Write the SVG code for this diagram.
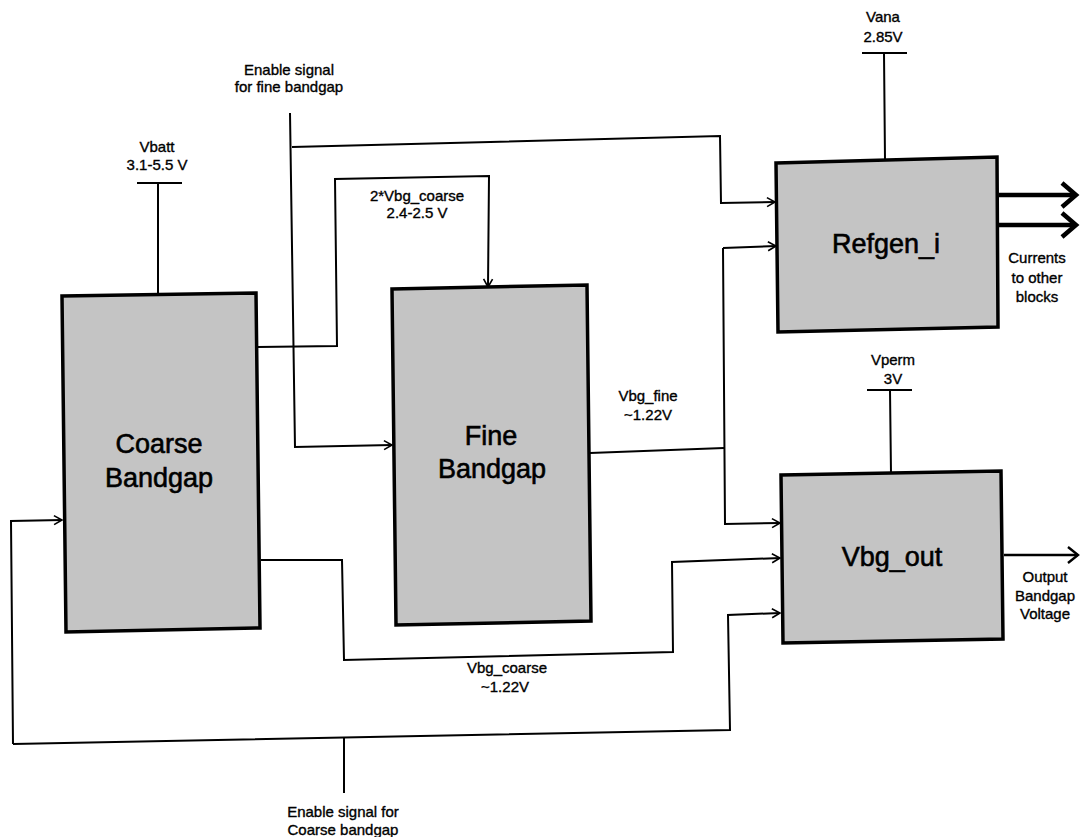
<svg xmlns="http://www.w3.org/2000/svg" width="1080" height="837" viewBox="0 0 1080 837">
<style>
.box{fill:#c4c4c4;stroke:#000;stroke-width:3.5;stroke-linejoin:miter}
.w{fill:none;stroke:#000;stroke-width:2;stroke-linejoin:miter}
.thick{fill:none;stroke:#000;stroke-width:4.5}
.big{font-family:"Liberation Sans",Arial,sans-serif;font-size:27px;text-anchor:middle;fill:#000;stroke:#000;stroke-width:0.6}
.sm{font-family:"Liberation Sans",Arial,sans-serif;font-size:15px;text-anchor:middle;fill:#000;stroke:#000;stroke-width:0.35}
</style>
<defs>
<marker id="a" markerUnits="userSpaceOnUse" markerWidth="14" markerHeight="14" refX="10" refY="6" orient="auto">
<path d="M2,1.5 L10,6 L2,10.5" fill="none" stroke="#000" stroke-width="1.6"/>
</marker>
<marker id="a2" markerUnits="userSpaceOnUse" markerWidth="16" markerHeight="20" refX="12" refY="10" orient="auto">
<path d="M2,2 L12,10 L2,18" fill="none" stroke="#000" stroke-width="2.4"/>
</marker>
<marker id="at" markerUnits="userSpaceOnUse" markerWidth="22" markerHeight="30" refX="17" refY="15" orient="auto">
<path d="M3,3 L17,15 L3,27" fill="none" stroke="#000" stroke-width="4.5"/>
</marker>
</defs>

<g id="connectors">
<path class="w" d="M137,183 L182,183 M158,183 L158,294"/>
<path class="w" d="M862,53 L907,53 M884,53 L885,160"/>
<path class="w" d="M867,390 L912,390 M890,390 L891,474"/>
<path class="w" d="M290,113 L295,447 L392,445" marker-end="url(#a)"/>
<path class="w" d="M292,147 L720,136 L721,203 L775,202" marker-end="url(#a)"/>
<path class="w" d="M258,347 L337,346 L335,179 L489,176 L488,287" marker-end="url(#a)"/>
<path class="w" d="M590,453 L724,448"/>
<path class="w" d="M723,248 L776,246" marker-end="url(#a)"/>
<path class="w" d="M723,248 L725,524 L780,523" marker-end="url(#a)"/>
<path class="w" d="M261,560 L342,560 L344,660 L673,652 L672,562 L780,558" marker-end="url(#a)"/>
<path class="w" d="M13,744 L11,521 L62,520" marker-end="url(#a)"/>
<path class="w" d="M13,744 L730,730 L728,615 L780,613" marker-end="url(#a)"/>
<path class="w" d="M344,738 L344,793"/>
<path class="thick" d="M999,195 L1076,195" marker-end="url(#at)"/>
<path class="thick" d="M999,225 L1076,225" marker-end="url(#at)"/>
<path class="w" style="stroke-width:2.5" d="M1004,555 L1078,555" marker-end="url(#a2)"/>
</g>

<g id="coarse">
<polygon class="box" points="62,296 256,293 260,628 66,632"/>
<text class="big" x="159" y="453">Coarse</text>
<text class="big" x="159" y="487">Bandgap</text>
</g>
<g id="fine">
<polygon class="box" points="392,289 587,285 591,621 396,625"/>
<text class="big" x="491" y="445">Fine</text>
<text class="big" x="492" y="478">Bandgap</text>
</g>
<g id="refgen">
<polygon class="box" points="776,163 997,157 998,327 778,332"/>
<text class="big" x="886" y="253">Refgen_i</text>
</g>
<g id="vbgout">
<polygon class="box" points="781,475 1001,471 1003,639 783,643"/>
<text class="big" x="892" y="566">Vbg_out</text>
</g>

<g id="labels">
<text class="sm" x="289" y="75">Enable signal</text>
<text class="sm" x="289" y="92">for fine bandgap</text>
<text class="sm" x="157" y="152">Vbatt</text>
<text class="sm" x="157" y="170">3.1-5.5 V</text>
<text class="sm" x="417" y="201">2*Vbg_coarse</text>
<text class="sm" x="417" y="218">2.4-2.5 V</text>
<text class="sm" x="883" y="22">Vana</text>
<text class="sm" x="883" y="42">2.85V</text>
<text class="sm" x="1037" y="263">Currents</text>
<text class="sm" x="1037" y="283">to other</text>
<text class="sm" x="1037" y="302">blocks</text>
<text class="sm" x="893" y="365">Vperm</text>
<text class="sm" x="893" y="384">3V</text>
<text class="sm" x="648" y="401">Vbg_fine</text>
<text class="sm" x="648" y="420">~1.22V</text>
<text class="sm" x="1045" y="582">Output</text>
<text class="sm" x="1045" y="601">Bandgap</text>
<text class="sm" x="1045" y="619">Voltage</text>
<text class="sm" x="507" y="673">Vbg_coarse</text>
<text class="sm" x="505" y="692">~1.22V</text>
<text class="sm" x="343" y="817">Enable signal for</text>
<text class="sm" x="343" y="835">Coarse bandgap</text>
</g>
</svg>
